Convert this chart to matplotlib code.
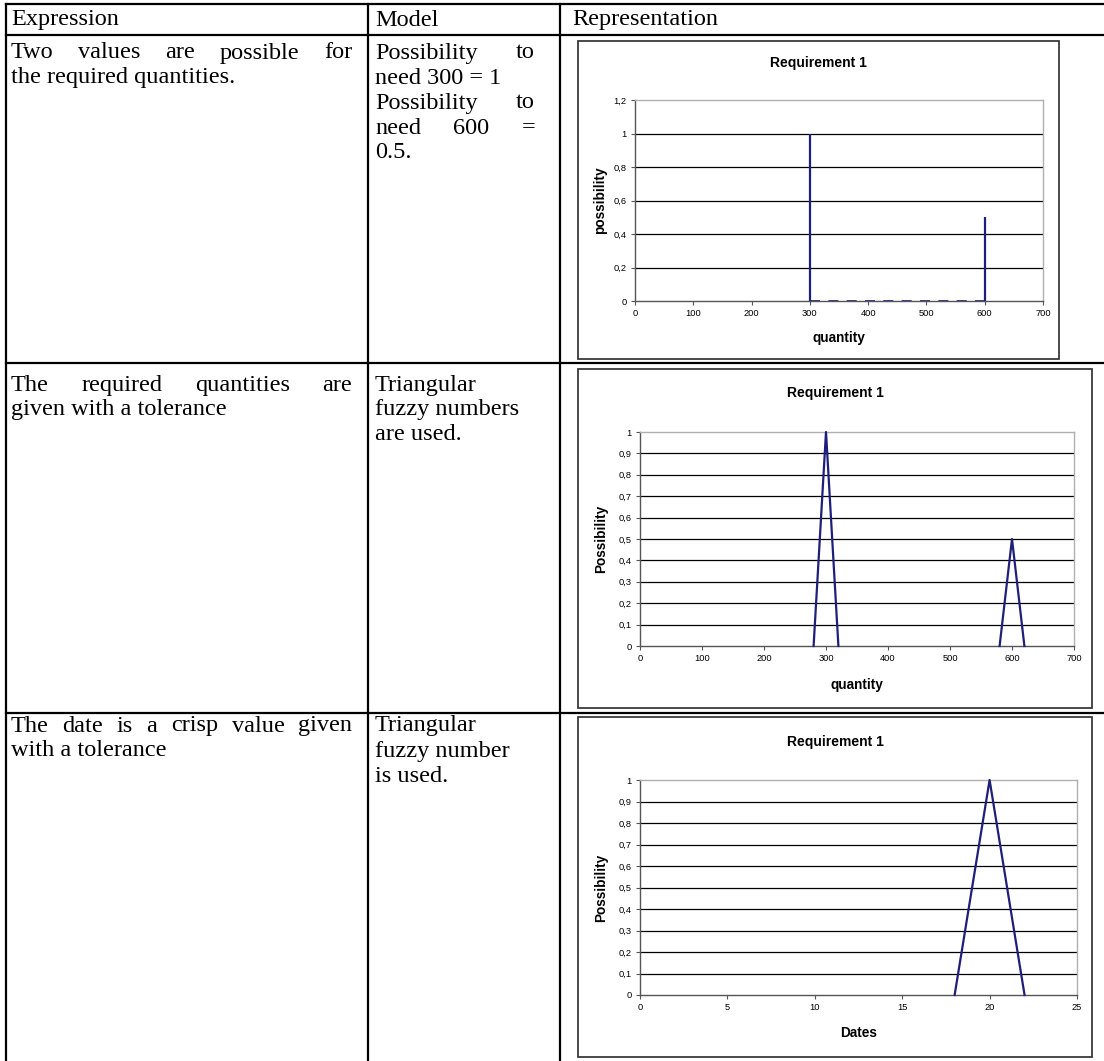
import matplotlib
matplotlib.use("Agg")
import matplotlib.pyplot as plt
from matplotlib.lines import Line2D
from matplotlib.patches import Rectangle
from matplotlib.ticker import FixedLocator, FuncFormatter

W, H = 1104, 1061
SERIF = "Liberation Serif"
SANS = "Liberation Sans"
NAVY = "#1F1F7A"
TXT = 17.5  # размер шрифта таблицы
LEAD = 25   # межстрочный интервал, px

# --- данные ---
headers = ["Expression", "Model", "Representation"]
expr_lines = [
    [("Two values are possible for", True), ("the required quantities.", False)],
    [("The required quantities are", True), ("given with a tolerance", False)],
    [("The date is a crisp value given", True), ("with a tolerance", False)],
]
model_lines = [
    [("Possibility to", True), ("need 300 = 1", False), ("Possibility to", True),
     ("need 600 =", True), ("0.5.", False)],
    [("Triangular", False), ("fuzzy numbers", False), ("are used.", False)],
    [("Triangular", False), ("fuzzy number", False), ("is used.", False)],
]

# график 1: два возможных значения
crisp_qty = [300, 600]
crisp_poss = [1, 0.5]
# график 2: треугольные нечёткие числа
tri_qty = [[280, 300, 320], [580, 600, 620]]
tri_poss = [[0, 1, 0], [0, 0.5, 0]]
# график 3: дата
date_vals = [18, 20, 22]
date_poss = [0, 1, 0]

fig = plt.figure(figsize=(W / 100, H / 100), dpi=100)
renderer = fig.canvas.get_renderer()


def fx(x):
    return x / W


def fy(y):
    return 1 - y / H


def hline(y, x0=6, x1=W):
    fig.add_artist(Line2D([fx(x0), fx(x1)], [fy(y), fy(y)], color="black", lw=1.6))


def vline(x, y0, y1):
    fig.add_artist(Line2D([fx(x), fx(x)], [fy(y0), fy(y1)], color="black", lw=1.6))


def put_line(text, x0, x1, y, justify, size=TXT):
    words = text.split(" ")
    if not justify or len(words) < 2:
        fig.text(fx(x0), fy(y), text, family=SERIF, size=size, va="center")
        return
    items = [fig.text(0, fy(y), w, family=SERIF, size=size, va="center") for w in words]
    widths = [t.get_window_extent(renderer).width for t in items]
    gap = (x1 - x0 - sum(widths)) / (len(words) - 1)
    x = x0
    for t, w in zip(items, widths):
        t.set_x(fx(x))
        x += w + gap


# таблица
hline(4)
hline(35)
hline(363)
hline(713)
vline(6, 4, H)
vline(368, 4, H)
vline(560, 4, H)

for x, h in zip([11, 375, 572], headers):
    fig.text(fx(x), fy(20), h, family=SERIF, size=TXT, va="center")

row_first = [53, 385, 726]
for r in range(3):
    for i, (txt, j) in enumerate(expr_lines[r]):
        put_line(txt, 11, 352, row_first[r] + LEAD * i, j)
    for i, (txt, j) in enumerate(model_lines[r]):
        put_line(txt, 375, 535, row_first[r] + LEAD * i, j)


def comma(v, pos):
    s = ("%.1f" % v).rstrip("0").rstrip(".")
    return s.replace(".", ",")


def make_chart(box, plot, title, title_y, xlabel, xlabel_y, ylabel, ylabel_x,
               xmax, xstep, ymax, ystep):
    bl, bt, br, bb = box
    fig.add_artist(Rectangle((fx(bl), fy(bb)), fx(br - bl), (bb - bt) / H,
                             fill=False, edgecolor="#3A3A3A", lw=1.3))
    l, t, r, b = plot
    ax = fig.add_axes([fx(l), fy(b), fx(r - l), (b - t) / H])
    ax.set_xlim(0, xmax)
    ax.set_ylim(0, ymax)
    n = int(round(ymax / ystep))
    yt = [i * ystep for i in range(n + 1)]
    ax.yaxis.set_major_locator(FixedLocator(yt))
    ax.xaxis.set_major_locator(FixedLocator(list(range(0, xmax + 1, xstep))))
    ax.yaxis.set_major_formatter(FuncFormatter(comma))
    for y in yt[1:-1]:
        ax.axhline(y, color="black", lw=0.9, zorder=1)
    ax.spines["top"].set_color("#B0B0B0")
    ax.spines["right"].set_color("#B0B0B0")
    ax.spines["left"].set_color("#555555")
    ax.spines["bottom"].set_color("#555555")
    for s in ax.spines.values():
        s.set_linewidth(1.0)
    ax.tick_params(direction="out", length=3, width=0.8, color="#555555",
                   labelsize=6.7, pad=3)
    for lab in ax.get_xticklabels() + ax.get_yticklabels():
        lab.set_family(SANS)
    cx = (bl + br) / 2
    fig.text(fx(cx), fy(title_y), title, family=SANS, weight="bold", size=10,
             ha="center", va="center")
    fig.text(fx((l + r) / 2), fy(xlabel_y), xlabel, family=SANS, weight="bold",
             size=9.8, ha="center", va="center")
    fig.text(fx(ylabel_x), fy((t + b) / 2), ylabel, family=SANS, weight="bold",
             size=9.8, ha="center", va="center", rotation=90)
    return ax


ax1 = make_chart((578, 41, 1059, 359), (635, 100, 1043, 301), "Requirement 1", 63,
                 "quantity", 338, "possibility", 600, 700, 100, 1.2, 0.2)
ax1.vlines(crisp_qty, 0, crisp_poss, color=NAVY, lw=1.6, zorder=3)
ax1.plot(crisp_qty, [0, 0], color=NAVY, lw=1.2, ls=(0, (6, 5)), zorder=3)

ax2 = make_chart((578, 369, 1092, 708), (640, 432, 1074, 646), "Requirement 1", 393,
                 "quantity", 685, "Possibility", 601, 700, 100, 1.0, 0.1)
for xs, ys in zip(tri_qty, tri_poss):
    ax2.plot(xs, ys, color=NAVY, lw=1.6, zorder=3, clip_on=False)

ax3 = make_chart((578, 717, 1092, 1057), (640, 780, 1077, 995), "Requirement 1", 742,
                 "Dates", 1033, "Possibility", 601, 25, 5, 1.0, 0.1)
ax3.plot(date_vals, date_poss, color=NAVY, lw=1.6, zorder=3, clip_on=False)

fig.savefig("out.png", dpi=100)
